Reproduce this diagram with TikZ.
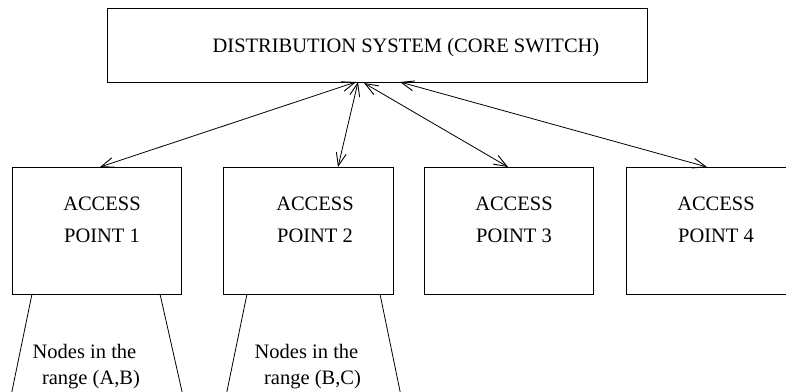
\documentclass[tikz,border=0pt]{standalone}
\usepackage{fontspec}
\setmainfont{Liberation Serif}
\usetikzlibrary{arrows.meta}
\begin{document}
\begin{tikzpicture}[x=1pt,y=-1pt,
  box/.style={draw,line width=0.8pt,rectangle,inner sep=0pt,anchor=north west},
  txt/.style={font=\fontsize{20.5}{26}\selectfont,inner sep=0pt,anchor=base},
  link/.style={line width=0.8pt,{Straight Barb[length=13pt,width=10pt,line width=0.9pt]}-{Straight Barb[length=13pt,width=10pt,line width=0.9pt]}},
  edge/.style={line width=0.8pt}]
\useasboundingbox (0,0) rectangle (786,391);
\clip (0,0) rectangle (786,391);
% top box
\node[box,minimum width=540pt,minimum height=74pt] (ds) at (107,8) {};
\node[txt] (dst) at (406,52) {DISTRIBUTION SYSTEM (CORE SWITCH)};
% access points
\node[box,minimum width=169pt,minimum height=127pt] (ap1) at (12,167) {};
\node[box,minimum width=170pt,minimum height=127pt] (ap2) at (223,167) {};
\node[box,minimum width=169pt,minimum height=127pt] (ap3) at (424,167) {};
\node[box,minimum width=170pt,minimum height=127pt] (ap4) at (626,167) {};
\node[txt] (a1) at (102,210) {ACCESS};
\node[txt] (p1) at (102,242) {POINT 1};
\node[txt] (a2) at (315,210) {ACCESS};
\node[txt] (p2) at (315,242) {POINT 2};
\node[txt] (a3) at (514,210) {ACCESS};
\node[txt] (p3) at (514,242) {POINT 3};
\node[txt] (a4) at (716,210) {ACCESS};
\node[txt] (p4) at (716,242) {POINT 4};
% connectors
\coordinate (h1) at (356,82);
\coordinate (h2) at (358,82);
\coordinate (h3) at (364,83);
\coordinate (h4) at (400,82);
\coordinate (t1) at (100,167);
\coordinate (t2) at (338,167);
\coordinate (t3) at (508,167);
\coordinate (t4) at (707,167);
\draw[link] (h1) -- (t1);
\draw[link] (h2) -- (t2);
\draw[link] (h3) -- (t3);
\draw[link] (h4) -- (t4);
% ranges
\coordinate (r1a) at (32,294);  \coordinate (r1b) at (11,396);
\coordinate (r1c) at (160,294); \coordinate (r1d) at (183,396);
\coordinate (r2a) at (247,294); \coordinate (r2b) at (226,396);
\coordinate (r2c) at (380,294); \coordinate (r2d) at (401,396);
\draw[edge] (r1a) -- (r1b);
\draw[edge] (r1c) -- (r1d);
\draw[edge] (r2a) -- (r2b);
\draw[edge] (r2c) -- (r2d);
\node[txt] (n1a) at (84.5,358) {Nodes in the};
\node[txt] (n1b) at (91,384) {range (A,B)};
\node[txt] (n2a) at (306.5,358) {Nodes in the};
\node[txt] (n2b) at (312.5,384) {range (B,C)};
\end{tikzpicture}
\end{document}
